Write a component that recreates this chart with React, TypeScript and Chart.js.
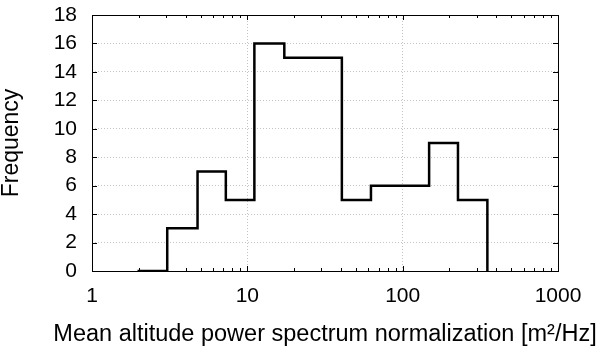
import React, { useEffect, useRef } from "react";
import { Chart, registerables } from "chart.js";

Chart.register(...registerables);

// Histogram bin edges (m^2/Hz) and counts per bin
const binEdges = [2.0, 3.05, 4.78, 7.27, 11.1, 17.3, 26.4, 40.6, 62.5, 96.2, 148, 227, 351];
const counts = [0, 3, 7, 5, 16, 15, 15, 5, 6, 6, 9, 5];
const xTickLabels = [1, 10, 100, 1000];
const yTicks = [0, 2, 4, 6, 8, 10, 12, 14, 16, 18];
const xTitle = "Mean altitude power spectrum normalization [m²/Hz]";
const yTitle = "Frequency";

const FONT = "'Liberation Sans', Arial, Helvetica, sans-serif";

const boxPlugin = {
  id: "gnuplotBox",
  afterDraw(chart: any) {
    const { ctx, chartArea } = chart;
    const xs = chart.scales.x;
    const ys = chart.scales.y;
    const { left, right, top, bottom } = chartArea;
    ctx.save();
    ctx.strokeStyle = "#000";
    ctx.lineWidth = 1;
    ctx.beginPath();
    for (let d = 1; d <= 1000; d *= 10) {
      for (let k = 1; k <= 9; k++) {
        const v = d * k;
        if (v > 1000) break;
        const px = Math.round(xs.getPixelForValue(v)) + 0.5;
        const len = k === 1 ? 5 : 3;
        ctx.moveTo(px, bottom);
        ctx.lineTo(px, bottom - len);
        ctx.moveTo(px, top);
        ctx.lineTo(px, top + len);
      }
    }
    yTicks.forEach((v) => {
      const py = Math.round(ys.getPixelForValue(v)) + 0.5;
      ctx.moveTo(left, py);
      ctx.lineTo(left + 5, py);
      ctx.moveTo(right, py);
      ctx.lineTo(right - 5, py);
    });
    ctx.stroke();
    ctx.strokeRect(Math.round(left) + 0.5, Math.round(top) + 0.5, Math.round(right - left), Math.round(bottom - top));
    // x-axis title (drawn unsqueezed, centred on the plot)
    ctx.fillStyle = "#000";
    ctx.font = `23.5px ${FONT}`;
    ctx.textAlign = "center";
    ctx.textBaseline = "alphabetic";
    ctx.fillText(xTitle, (left + right) / 2, bottom + 70);
    ctx.restore();
  },
};

export default function App() {
  const ref = useRef<HTMLCanvasElement | null>(null);
  useEffect(() => {
    document.body.style.margin = "0";
    if (!ref.current) return;
    const points = binEdges.map((e, i) => ({ x: e, y: i < counts.length ? counts[i] : 0 }));
    const chart = new Chart(ref.current, {
      type: "line",
      data: {
        datasets: [
          {
            data: points,
            stepped: "before",
            borderColor: "#000",
            borderWidth: 2.5,
            pointRadius: 0,
            fill: false,
            borderCapStyle: "square",
            borderJoinStyle: "miter",
          },
        ],
      },
      options: {
        animation: false,
        responsive: false,
        maintainAspectRatio: false,
        layout: { padding: { top: 15, right: 42, left: 0, bottom: 0 } },
        plugins: { legend: { display: false }, tooltip: { enabled: false } },
        scales: {
          x: {
            type: "logarithmic",
            min: 1,
            max: 1000,
            afterFit: (s: any) => {
              s.height = 84;
            },
            afterBuildTicks: (s: any) => {
              s.ticks = xTickLabels.map((v) => ({ value: v, major: true }));
            },
            ticks: {
              autoSkip: false,
              maxRotation: 0,
              padding: 13,
              color: "#000",
              font: { family: FONT, size: 21 },
              callback: (v: any) => String(v),
            },
            grid: {
              drawTicks: false,
              color: (c: any) =>
                c.tick && (c.tick.value === 10 || c.tick.value === 100) ? "#c4c4c4" : "rgba(0,0,0,0)",
              lineWidth: 1,
            },
            border: { display: false, dash: [1, 2] },
            title: { display: false },
          },
          y: {
            min: 0,
            max: 18,
            afterFit: (s: any) => {
              s.width = 92;
              s.paddingTop = 0;
              s.paddingBottom = 0;
            },
            ticks: {
              stepSize: 2,
              autoSkip: false,
              padding: 15,
              color: "#000",
              font: { family: FONT, size: 21 },
            },
            grid: {
              drawTicks: false,
              color: (c: any) =>
                c.tick && c.tick.value > 0 && c.tick.value < 18 ? "#c4c4c4" : "rgba(0,0,0,0)",
              lineWidth: 1,
            },
            border: { display: false, dash: [1, 2] },
            title: {
              display: true,
              text: yTitle,
              color: "#000",
              font: { family: FONT, size: 23 },
              padding: { top: -2, bottom: 0 },
            },
          },
        },
      },
      plugins: [boxPlugin],
    });
    return () => chart.destroy();
  }, []);
  return (
    <div style={{ width: 600, height: 355 }}>
      <canvas ref={ref} width={600} height={355} style={{ width: 600, height: 355, display: "block" }} />
    </div>
  );
}
